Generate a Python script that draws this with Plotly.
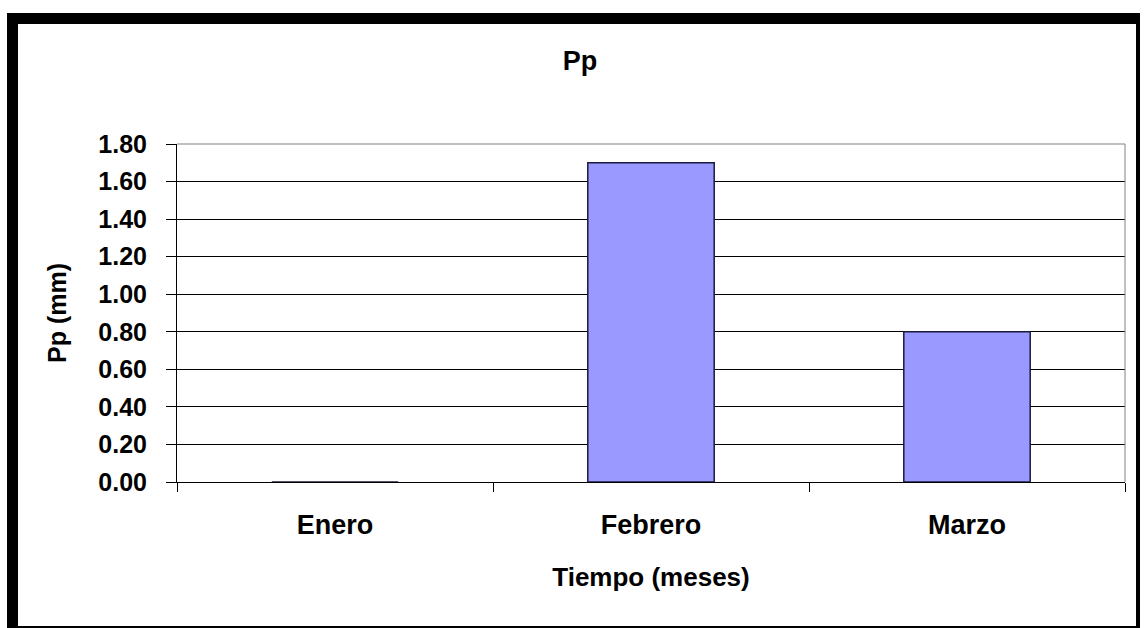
import plotly.graph_objects as go

# Data
months = ["Enero", "Febrero", "Marzo"]
pp_mm = [0.0, 1.70, 0.80]
y_ticks = [0.0, 0.2, 0.4, 0.6, 0.8, 1.0, 1.2, 1.4, 1.6, 1.8]
y_tick_labels = ["0.00", "0.20", "0.40", "0.60", "0.80", "1.00", "1.20", "1.40", "1.60", "1.80"]

W, H = 1144, 628
ML, MR, MT, MB = 177, 19, 144, 146
PW, PH = W - ML - MR, H - MT - MB


def px_x(px):
    return (px - ML) / PW


def px_y(py):
    return (H - MB - py) / PH


FONT = "Arial, Liberation Sans, sans-serif"

fig = go.Figure()
fig.add_trace(go.Bar(
    x=months, y=pp_mm, width=0.4,
    marker=dict(color="#9999FF", line=dict(color="#1a1a40", width=1.5)),
    showlegend=False,
))

shapes = []
# black frame (thick top/left, thin right/bottom)
for x0, x1, y0, y1 in [(7, 1140, 13, 24), (7, 18, 13, 628), (1136, 1140, 13, 628), (7, 1140, 626, 628)]:
    shapes.append(dict(type="rect", xref="paper", yref="paper",
                       x0=px_x(x0), x1=px_x(x1), y0=px_y(y1), y1=px_y(y0),
                       fillcolor="black", line=dict(width=0)))
# gray top/right plot-area border
shapes.append(dict(type="line", xref="paper", yref="paper", x0=0, x1=1, y0=1, y1=1,
                   line=dict(color="#808080", width=1)))
shapes.append(dict(type="line", xref="paper", yref="paper", x0=1, x1=1, y0=0, y1=1,
                   line=dict(color="#808080", width=1)))

fig.update_layout(
    width=W, height=H,
    margin=dict(l=ML, r=MR, t=MT, b=MB, autoexpand=False),
    paper_bgcolor="white", plot_bgcolor="white",
    title=dict(text="Pp", x=580 / W, xanchor="center",
               y=1 - 61 / H, yanchor="middle",
               font=dict(family=FONT, size=27, color="black", weight="bold")),
    shapes=shapes,
    xaxis=dict(
        type="category", range=[-0.5, 2.5],
        showline=True, linecolor="black", linewidth=1,
        ticks="outside", tickson="boundaries", ticklen=9, tickcolor="black", tickwidth=1,
        tickfont=dict(family=FONT, size=27, color="black", weight="bold"),
        ticklabelstandoff=19,
        showgrid=False, zeroline=False,
        title=dict(text="Tiempo (meses)", standoff=28,
                   font=dict(family=FONT, size=26, color="black", weight="bold")),
    ),
    yaxis=dict(
        range=[0, 1.8], tickvals=y_ticks, ticktext=y_tick_labels,
        showline=True, linecolor="black", linewidth=1,
        ticks="outside", ticklen=10, tickcolor="black", tickwidth=1,
        tickfont=dict(family=FONT, size=25, color="black", weight="bold"),
        ticklabelstandoff=14,
        showgrid=True, gridcolor="black", gridwidth=1, zeroline=False,
        title=dict(text="Pp (mm)", standoff=24,
                   font=dict(family=FONT, size=25, color="black", weight="bold")),
    ),
    bargap=0.6,
)

fig.write_html("out.html", config={"displayModeBar": False},
               post_script="document.body.style.margin='0';")
